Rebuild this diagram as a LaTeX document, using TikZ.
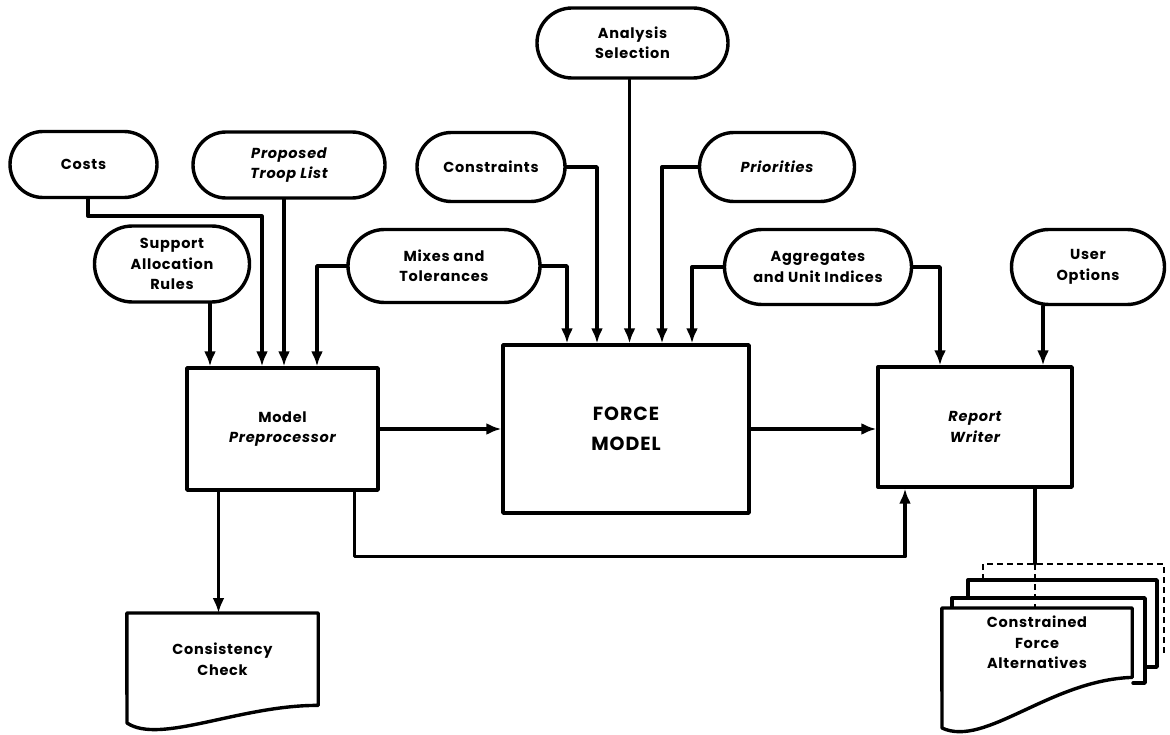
\documentclass[tikz,border=0pt]{standalone}
\usepackage{fontspec}
\setmainfont{Poppins}[LetterSpace=5]
\usetikzlibrary{shapes.misc,arrows.meta}
\newcommand{\dlabelfont}{\fontsize{14.5}{20.5}\selectfont\bfseries}
\newcommand{\dbigfont}{\fontsize{19}{30}\selectfont\bfseries}
\begin{document}
\begin{tikzpicture}[x=1pt,y=-1pt,
  ln/.style={line width=3.4pt, line join=round, line cap=round},
  arr/.style={ln, -{Latex[length=15pt,width=12pt]}},
  pill/.style={draw, ln, rounded rectangle, inner sep=0pt, align=center, font=\dlabelfont},
  procbox/.style={draw, ln, rectangle, inner sep=0pt, align=center, font=\dlabelfont},
  doclbl/.style={rectangle, inner sep=0pt, align=center, font=\dlabelfont},
  dashln/.style={line width=2.2pt, dash pattern=on 6pt off 4pt},
]
\useasboundingbox (0,0) rectangle (1170,735);

% input pills
\node[pill, minimum width=147pt, minimum height=66pt] (costs) at (83.5,164.5) {Costs};
\node[pill, minimum width=192pt, minimum height=66pt] (troop) at (289,165) {\itshape Proposed\\\itshape Troop List};
\node[pill, minimum width=155pt, minimum height=76pt] (support) at (172,264) {Support\\Allocation\\Rules};
\node[pill, minimum width=192pt, minimum height=73pt] (mixes) at (444,266) {Mixes and\\Tolerances};
\node[pill, minimum width=148pt, minimum height=69pt] (constraints) at (491,167) {Constraints};
\node[pill, minimum width=191pt, minimum height=70pt] (analysis) at (632.5,43) {Analysis\\Selection};
\node[pill, minimum width=155pt, minimum height=69pt] (priorities) at (777,167) {\itshape Priorities};
\node[pill, minimum width=187pt, minimum height=75pt] (aggregates) at (818,267) {Aggregates\\and Unit Indices};
\node[pill, minimum width=153pt, minimum height=75pt] (useropt) at (1088,267) {User\\Options};

% process boxes
\node[procbox, minimum width=191pt, minimum height=122pt] (mp) at (282.5,429) {Model\\\itshape Preprocessor};
\node[procbox, minimum width=246pt, minimum height=168pt, font=\dbigfont] (force) at (626,429) {FORCE\\MODEL};
\node[procbox, minimum width=194pt, minimum height=120pt] (rw) at (975,427) {\itshape Report\\\itshape Writer};

% document outputs
\node[doclbl, minimum width=191pt, minimum height=92pt, anchor=north] (cc) at (222.5,613) {Consistency\\Check};
\draw[ln] (cc.south east) -- (cc.north east) -- (cc.north west) -- (127,723)
  .. controls (160,745) and (240,705) .. (cc.south east);

\draw[dashln] (983,580) -- (983,564) -- (1164,564) -- (1164,652) -- (1157,652);
\draw[ln] (968,598) -- (968,580) -- (1157,580) -- (1157,667) -- (1146,667);
\draw[ln] (952,608) -- (952,598) -- (1145,598) -- (1145,683) -- (1133,683);

% Report Writer to outputs
\coordinate (oA) at ([xshift=60pt]rw.south);
\draw[ln] (oA) -- (oA |- 0,564);
\draw[dashln] (oA |- 0,564) -- (oA |- 0,608);

\node[doclbl, minimum width=190pt, minimum height=69pt, anchor=north] (fa) at (1037,608) {Constrained\\Force\\Alternatives};
\draw[ln, fill=white] (fa.south east) -- (fa.north east) -- (fa.north west) -- (942,728)
  .. controls (985,748) and (1050,680) .. (fa.south east);
\node[doclbl] at (fa.center) {Constrained\\Force\\Alternatives};

% connectors into Model Preprocessor
\coordinate (sA) at ([xshift=38pt]support.south);
\draw[arr] (sA) -- (sA |- mp.north);
\coordinate (cA) at ([xshift=4.5pt]costs.south);
\coordinate (cB) at ([xshift=-20.5pt]mp.north);
\draw[arr] (cA) -- ++(0,17) -| (cB);
\coordinate (tA) at ([xshift=-5pt]troop.south);
\draw[arr] (tA) -- (tA |- mp.north);
\coordinate (mA) at ([xshift=34.5pt]mp.north);
\draw[arr] (mixes.west) -| (mA);

% connectors into FORCE MODEL
\coordinate (fM) at ([xshift=-59pt]force.north);
\draw[arr] (mixes.east) -| (fM);
\coordinate (fC) at ([xshift=-29pt]force.north);
\draw[arr] (constraints.east) -| (fC);
\coordinate (aA) at ([xshift=-3pt]analysis.south);
\draw[arr] (aA) -- (aA |- force.north);
\coordinate (fP) at ([xshift=36pt]force.north);
\draw[arr] (priorities.west) -| (fP);
\coordinate (fG) at ([xshift=66pt]force.north);
\draw[arr] (aggregates.west) -| (fG);

% connectors into Report Writer
\coordinate (rG) at ([xshift=-35pt]rw.north);
\draw[arr] (aggregates.east) -| (rG);
\coordinate (uA) at ([xshift=-45pt]useropt.south);
\draw[arr] (uA) -- (uA |- rw.north);

% main flow
\draw[arr] (mp.east) -- (force.west);
\draw[arr] (force.east) -- (force.east -| rw.west);
\coordinate (fbA) at ([xshift=72pt]mp.south);
\coordinate (fbB) at ([xshift=-70pt]rw.south);
\draw[arr] (fbA) -- ++(0,65) -| (fbB);
\coordinate (ccA) at ([xshift=-64pt]mp.south);
\draw[arr] (ccA) -- (ccA |- cc.north);
\end{tikzpicture}
\end{document}
